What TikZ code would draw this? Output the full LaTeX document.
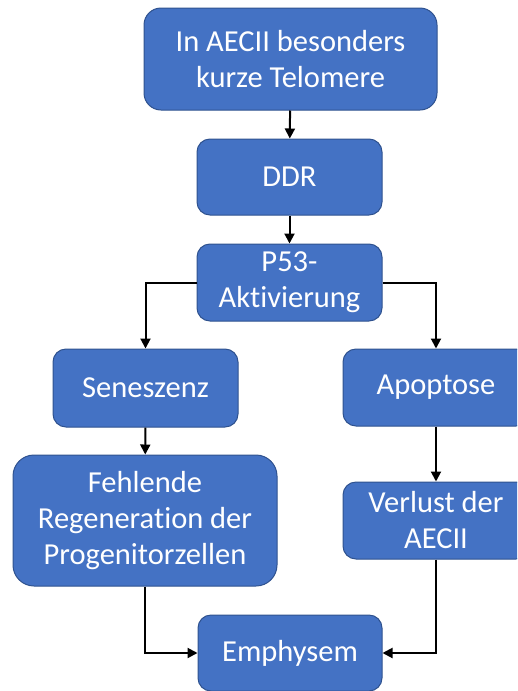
\documentclass[tikz,border=0pt]{standalone}
\usepackage{fontspec}
\setmainfont[Ligatures=NoCommon]{Carlito}
\usetikzlibrary{arrows.meta}
\definecolor{boxfill}{HTML}{4472C4}
\definecolor{boxline}{HTML}{2F528F}
\tikzset{
  box/.style={draw=boxline, fill=boxfill, line width=1pt, text=white,
    align=center, font=\fontsize{30.5}{36}\selectfont, inner sep=0pt},
  link/.style={line width=2pt, -{Triangle[length=10pt,width=10pt]}},
}
\begin{document}
\begin{tikzpicture}[x=1pt,y=-1pt]
\useasboundingbox (0,0) rectangle (517,691);
\clip (0,0) rectangle (517,691);
\node[box, minimum width=293pt, minimum height=102pt, rounded corners=17pt] (top) at (290.5,59) {In AECII besonders\\kurze Telomere};
\node[box, minimum width=185pt, minimum height=76pt, rounded corners=13pt] (ddr) at (289.5,177) {DDR};
\node[box, minimum width=185pt, minimum height=77pt, rounded corners=13pt] (p53) at (289.5,282.5) {P53-\\Aktivierung};
\node[box, minimum width=185pt, minimum height=78pt, rounded corners=13pt] (sen) at (145.5,388) {Seneszenz};
\node[box, minimum width=186pt, minimum height=77pt, rounded corners=13pt] (apo) at (436,387.5) {Apoptose};
\node[box, minimum width=264pt, minimum height=131pt, rounded corners=21pt] (feh) at (145,520.5) {Fehlende\\Regeneration der\\Progenitorzellen};
\node[box, minimum width=186pt, minimum height=77pt, rounded corners=13pt] (ver) at (436,520.5) {Verlust der\\AECII};
\node[box, minimum width=184pt, minimum height=76pt, rounded corners=13pt] (emp) at (290,653) {Emphysem};
\draw[link] (top) -- (ddr);
\draw[link] (ddr) -- (p53);
\draw[link] (p53.west) -| (sen.north);
\draw[link] (p53.east) -| (apo.north);
\draw[link] (sen) -- (feh);
\draw[link] (apo) -- (ver);
\draw[link] (feh.south) |- (emp.west);
\draw[link] (ver.south) |- (emp.east);
\end{tikzpicture}
\end{document}
